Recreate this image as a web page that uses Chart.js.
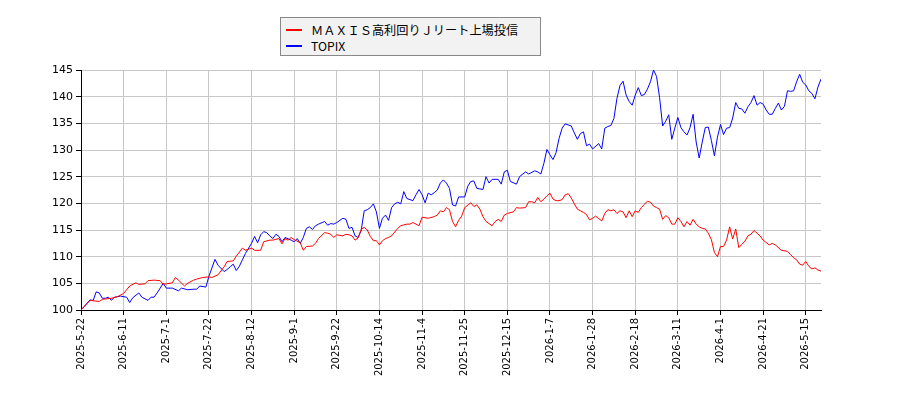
<!DOCTYPE html>
<html>
<head>
<meta charset="utf-8">
<script src="https://cdn.jsdelivr.net/npm/chart.js@4"></script>
<style>
  body { margin: 0; background: #fff; }
  #wrap { position: relative; width: 900px; height: 400px; }
  #legend {
    position: absolute; left: 280px; top: 17px; width: 259px; height: 37px;
    background: #f2f2f2; border: 1px solid #888;
    font-family: "Noto Sans CJK JP", "DejaVu Sans", sans-serif; font-size: 12.2px; color: #000;
  }
  #legend .swatch { position: absolute; left: 5px; width: 16px; height: 2px; }
  #legend .name { position: absolute; left: 30px; height: 16px; line-height: 16px; white-space: nowrap; }
</style>
</head>
<body>
<div id="wrap">
  <canvas id="chart" width="900" height="400"></canvas>
  <div id="legend"></div>
</div>
<script>
// x = trading day since 2025-5-22, y = index (start = 100)
var seriesNames = ['ＭＡＸＩＳ高利回りＪリート上場投信', 'TOPIX'];
var seriesColors = ['#ff0000', '#0000ff'];

var tickLabels = ['2025-5-22', '2025-6-11', '2025-7-1', '2025-7-22', '2025-8-12', '2025-9-1',
  '2025-9-22', '2025-10-14', '2025-11-4', '2025-11-25', '2025-12-15', '2026-1-7',
  '2026-1-28', '2026-2-18', '2026-3-11', '2026-4-1', '2026-4-21', '2026-5-15'];
var daysPerTick = 14;
var lastDay = 243;

var maxis = [[0,100],[2,101.2],[3,101.8],[6,101.6],[7,102.0],[10,102.2],[12,102.5],[14,103.1],[16,104.5],[18,105.1],
  [19,104.8],[21,104.9],[22,105.5],[24,105.6],[26,105.5],[27,104.8],[28,104.9],[30,105.1],[31,106.1],[32,105.6],
  [34,104.5],[35,105.0],[37,105.6],[38,105.8],[40,106.1],[42,106.2],[43,106.1],[45,106.6],[47,108.1],[48,109.1],
  [50,109.2],[51,110.1],[53,111.6],[54,111.2],[56,111.6],[57,111.2],[59,111.2],[60,112.8],[62,113.1],[63,113.1],
  [65,113.4],[66,112.4],[67,113.4],[68,113.1],[69,113.6],[70,113.2],[72,112.6],[73,111.2],[74,111.9],[76,112.0],
  [77,112.5],[78,113.4],[80,114.5],[81,114.4],[82,114.2],[83,113.6],[84,114.1],[86,113.9],[87,114.2],[88,114.1],
  [89,113.9],[90,113.1],[91,113.5],[92,115.1],[93,115.5],[94,115.0],[95,113.8],[96,113.0],[97,113.0],[98,112.2],
  [99,113.0],[100,113.4],[101,113.6],[102,113.9],[104,115.3],[105,115.8],[107,116.1],[108,116.1],[109,116.4],[111,115.8],
  [112,117.4],[114,117.2],[116,117.5],[117,117.8],[118,118.6],[119,118.4],[120,119.2],[121,118.8],[122,116.6],[123,115.6],
  [124,116.8],[125,117.6],[126,119.2],[128,120.1],[129,119.4],[130,119.7],[131,118.9],[132,117.5],[133,116.6],[135,115.8],
  [136,116.6],[137,117.0],[138,116.6],[139,117.8],[140,118.1],[142,118.4],[143,119.2],[144,119.1],[146,119.2],[147,120.3],
  [148,120.3],[149,120.1],[150,121.1],[151,120.3],[152,120.8],[153,121.4],[154,121.9],[155,120.8],[156,120.5],[157,120.5],
  [158,120.7],[159,121.6],[160,121.8],[161,121.0],[162,119.9],[163,118.9],[164,118.6],[165,118.3],[166,117.9],[167,116.9],
  [168,117.2],[169,117.6],[171,116.7],[172,118.1],[173,118.8],[174,118.6],[175,118.8],[176,118.1],[177,118.6],[178,118.4],
  [179,117.3],[180,118.6],[181,117.5],[182,118.6],[183,118.3],[184,119.2],[185,119.8],[186,120.4],[187,120.2],[188,119.5],
  [189,119.2],[190,118.9],[191,117.0],[192,117.7],[193,117.3],[194,116.1],[195,116.1],[196,117.3],[197,116.6],[198,115.6],
  [199,116.6],[200,115.9],[201,117.0],[202,116.1],[203,115.6],[204,115.3],[205,115.2],[206,114.4],[207,113.2],[208,110.8],
  [209,110.0],[210,111.9],[211,111.9],[212,113.1],[213,115.6],[214,113.3],[215,115.2],[216,111.7],[217,112.3],[218,112.9],
  [219,113.9],[220,114.2],[221,114.9],[222,114.4],[223,113.9],[224,113.1],[226,112.2],[227,112.5],[228,112.2],[230,111.2],
  [232,111.0],[233,110.4],[234,109.8],[235,109.4],[236,108.6],[237,108.4],[238,109.1],[239,108.2],[240,107.7],[241,107.9],
  [242,107.5],[243,107.3]];

var topix = [[0,100],[3,101.9],[4,101.8],[5,103.4],[6,103.2],[7,102.2],[8,102.2],[9,102.4],[10,101.8],[11,102.4],
  [12,102.5],[13,102.6],[15,102.4],[16,101.4],[17,102.3],[19,103.2],[20,102.4],[22,101.8],[23,102.4],[24,102.4],
  [25,103.2],[27,105.0],[28,104.1],[30,104.1],[32,103.6],[33,104.1],[35,103.8],[37,103.9],[38,103.9],[39,104.5],
  [41,104.3],[42,106.3],[44,109.5],[45,108.4],[47,107.2],[48,107.6],[49,108.1],[50,108.6],[51,107.4],[52,108.2],
  [53,109.4],[54,110.6],[56,112.5],[57,113.8],[58,112.6],[59,114.1],[60,114.7],[61,114.5],[62,113.9],[63,113.4],
  [64,114.2],[65,113.8],[66,112.8],[67,113.6],[69,113.1],[70,112.8],[71,113.4],[72,112.5],[73,113.6],[74,115.3],
  [75,115.6],[76,115.1],[77,115.8],[78,116.1],[80,116.6],[81,115.9],[82,116.2],[83,116.1],[84,116.4],[86,117.2],
  [87,117.0],[88,115.3],[89,115.5],[90,113.9],[91,113.6],[92,114.9],[93,118.6],[94,118.8],[95,119.2],[96,119.9],
  [97,118.4],[98,115.3],[99,117.2],[100,117.8],[101,116.8],[102,119.2],[103,119.9],[104,120.2],[105,119.9],[106,122.2],
  [107,120.9],[109,120.5],[110,121.6],[111,122.6],[112,121.6],[113,120.1],[114,121.9],[115,121.6],[116,122.0],[117,122.5],
  [118,123.8],[119,124.4],[120,123.8],[121,122.8],[122,119.7],[123,119.5],[124,121.2],[126,121.2],[127,123.2],[128,124.1],
  [129,124.2],[130,122.8],[132,122.6],[133,125.0],[134,123.8],[135,124.5],[137,124.5],[138,123.6],[139,125.9],[140,126.2],
  [141,124.1],[143,123.6],[144,125.0],[146,125.9],[147,125.5],[149,126.1],[150,125.9],[151,125.5],[152,127.5],[153,130.1],
  [154,129.1],[155,128.2],[156,129.5],[157,132.2],[158,134.1],[159,134.9],[161,134.5],[162,133.2],[163,132.0],[164,133.1],
  [165,133.4],[166,130.8],[167,131.1],[168,130.2],[170,131.2],[171,130.2],[172,134.1],[173,134.4],[174,134.6],[175,135.9],
  [176,139.7],[177,142.1],[178,142.9],[179,140.3],[180,139.1],[181,138.4],[182,140.3],[183,141.7],[184,140.2],[185,140.4],
  [186,141.4],[187,142.8],[188,145.0],[189,143.8],[190,139.8],[191,134.5],[192,135.4],[193,136.6],[194,132.0],[195,134.1],
  [196,136.1],[197,134.2],[198,133.4],[199,132.8],[200,134.2],[201,136.7],[202,131.5],[203,128.5],[204,131.5],[205,134.2],
  [206,134.3],[207,131.8],[208,128.9],[209,132.4],[210,134.8],[211,132.9],[212,134.1],[213,134.2],[214,136.0],[215,138.9],
  [216,137.8],[217,137.7],[218,136.9],[219,138.1],[220,138.9],[221,140.2],[222,138.4],[223,138.9],[224,138.6],[225,137.5],
  [226,136.7],[227,136.7],[228,137.8],[229,138.8],[230,137.5],[231,138.2],[232,141.1],[233,141.0],[234,141.1],[235,142.8],
  [236,144.2],[237,142.7],[238,142.2],[239,141.1],[240,140.6],[241,139.6],[242,141.8],[243,143.3]];

function toPoints(list) {
  return list.map(function (p) { return { x: p[0], y: p[1] }; });
}

var allSeries = [maxis, topix];
var datasets = allSeries.map(function (s, k) {
  return {
    label: seriesNames[k],
    data: toPoints(s),
    borderColor: seriesColors[k],
    borderWidth: 1,
    pointRadius: 0,
    tension: 0,
    fill: false
  };
});

// legend box (html, two rows)
var legend = document.getElementById('legend');
seriesNames.forEach(function (name, k) {
  var sw = document.createElement('div');
  sw.className = 'swatch';
  sw.style.top = (11 + k * 16) + 'px';
  sw.style.background = seriesColors[k];
  legend.appendChild(sw);
  var txt = document.createElement('div');
  txt.className = 'name';
  txt.style.top = (4 + k * 16) + 'px';
  txt.textContent = name;
  legend.appendChild(txt);
});

Chart.defaults.font.family = '"DejaVu Sans", sans-serif';
Chart.defaults.color = '#000';

var gridColor = '#c8c8c8';
var ctx = document.getElementById('chart').getContext('2d');
var chart = new Chart(ctx, {
  type: 'line',
  data: { datasets: datasets },
  options: {
    responsive: false,
    animation: false,
    devicePixelRatio: 1,
    layout: { padding: { left: 0, top: 70, right: 79, bottom: 0 } },
    plugins: { legend: { display: false }, tooltip: { enabled: false } },
    scales: {
      x: {
        type: 'linear',
        min: 0,
        max: lastDay,
        grid: { color: gridColor, tickColor: '#000', tickLength: 5 },
        border: { color: '#000' },
        afterBuildTicks: function (axis) {
          axis.ticks = tickLabels.map(function (_, k) { return { value: k * daysPerTick }; });
        },
        ticks: {
          autoSkip: false,
          maxRotation: 90,
          minRotation: 90,
          font: { size: 10 },
          callback: function (v, i) { return tickLabels[i]; }
        },
        afterFit: function (s) { s.height = 90; }
      },
      y: {
        min: 100,
        max: 145,
        grid: { color: gridColor, tickColor: '#000', tickLength: 5 },
        border: { color: '#000' },
        ticks: { stepSize: 5, font: { size: 11 } },
        afterFit: function (s) { s.width = 81; }
      }
    }
  }
});
</script>
</body>
</html>
